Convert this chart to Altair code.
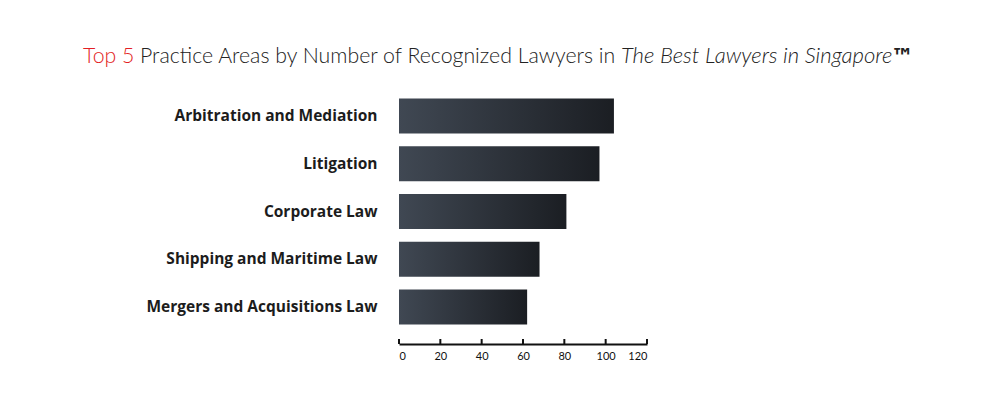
import altair as alt
import pandas as pd

categories = ["Arbitration and Mediation", "Litigation", "Corporate Law",
              "Shipping and Maritime Law", "Mergers and Acquisitions Law"]
values = [104, 97, 81, 68, 62]
tick_values = [0, 20, 40, 60, 80, 100, 120]

title_red = "Top 5"
title_main = "Practice Areas by Number of Recognized Lawyers in"
title_italic = "The Best Lawyers in Singapore"
title_tm = "™"

W, H = 248, 265
df = pd.DataFrame({"area": categories, "n": values})
ticks_df = pd.DataFrame({"t": tick_values})

grad = alt.Gradient(
    gradient="linear",
    stops=[alt.GradientStop(color="#404853", offset=0),
           alt.GradientStop(color="#1b1e23", offset=1)],
    x1=0, x2=1, y1=0, y2=0,
)

xscale = alt.Scale(domain=[0, 120], nice=False)

bars = alt.Chart(df).mark_bar(color=grad).encode(
    y=alt.Y("area:N", sort=categories, title=None,
            scale=alt.Scale(paddingInner=0.27, paddingOuter=0.41),
            axis=alt.Axis(domain=False, ticks=False, labelPadding=22,
                          labelFont="Open Sans", labelFontSize=15.5, labelFontWeight="bold",
                          labelColor="#1c1c1c", labelLimit=400)),
    x=alt.X("n:Q", scale=xscale, title=None,
            axis=alt.Axis(values=tick_values, ticks=False, tickSize=0, grid=False,
                          domainColor="#111111", domainWidth=2, labelPadding=6,
                          labelFont="Lato", labelFontSize=11, labelColor="#111111")),
)

tick_marks = alt.Chart(ticks_df).mark_rule(color="#111111", strokeWidth=2).encode(
    x=alt.X("t:Q", scale=xscale),
    y=alt.value(H - 5),
    y2=alt.value(H),
)

def title_part(txt, xpos, color, style="normal", size=21.3, weight=300, ypos=-16, font="Lato"):
    return alt.Chart(pd.DataFrame({"t": [txt]})).mark_text(
        align="left", baseline="alphabetic", font=font, fontSize=size,
        fontWeight=weight, fontStyle=style, color=color,
    ).encode(text="t:N", x=alt.value(xpos), y=alt.value(ypos))

t1 = title_part(title_red, 83 - 399, "#e31e24")
t2 = title_part(title_main, 140 - 399, "#222222")
t3 = title_part(title_italic, 621 - 399, "#222222", "italic", size=22.1)
t4 = title_part(title_tm, 891 - 399, "#222222", size=23, weight="bold", font="DejaVu Sans", ypos=-14)

chart = alt.layer(bars, tick_marks, t1, t2, t3, t4).properties(
    width=W, height=H,
    autosize=alt.AutoSizeParams(type="none"),
    padding={"left": 391, "top": 71, "right": 345, "bottom": 40},
).configure(background="white").configure_view(stroke="transparent", strokeWidth=0)

chart.save("out.html", embed_options={"renderer": "svg", "actions": False})
